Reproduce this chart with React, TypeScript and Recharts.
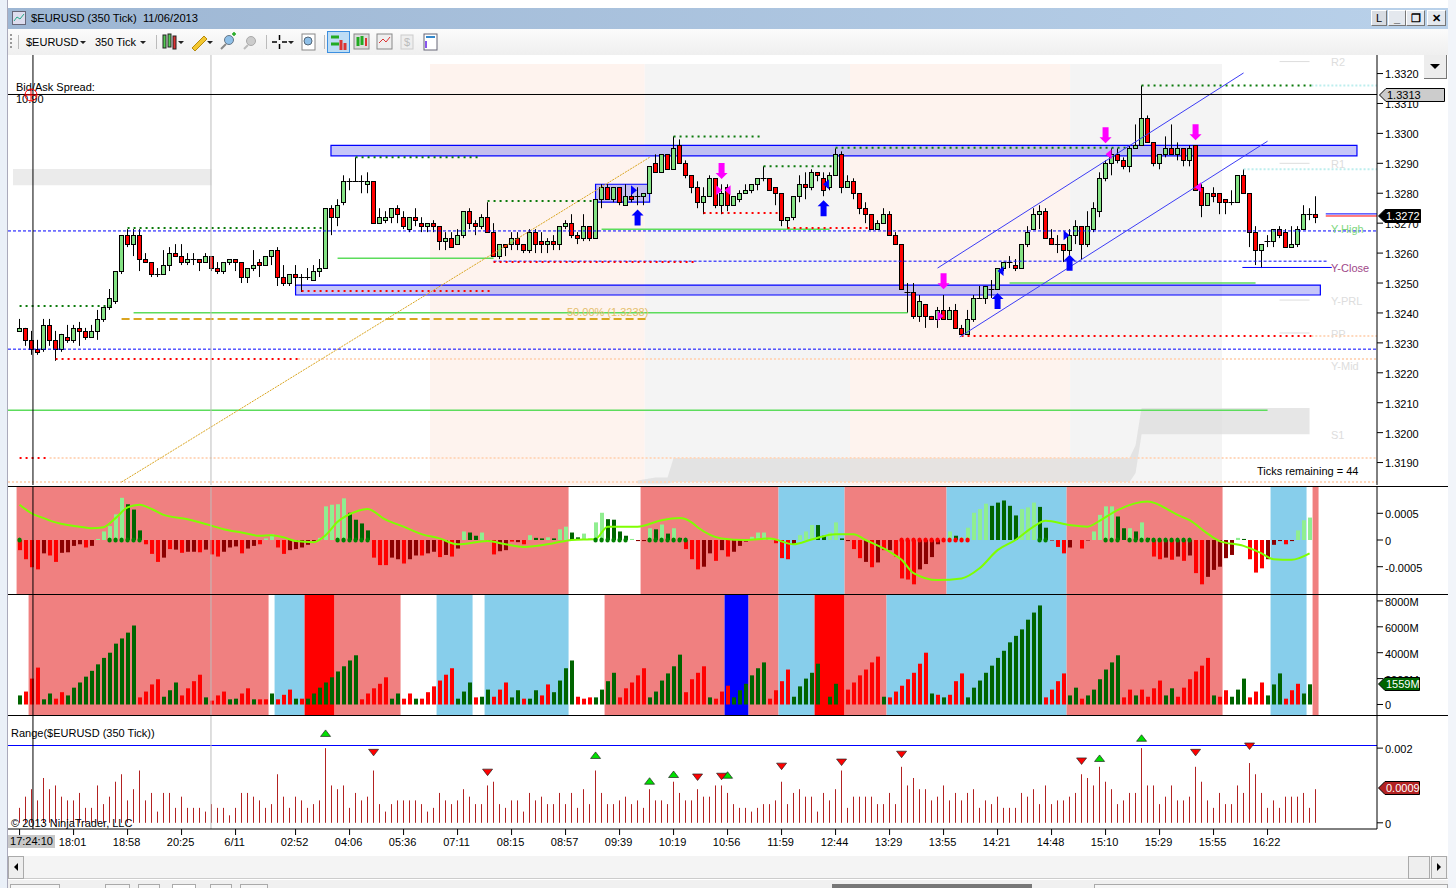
import { Bar, ComposedChart, Area, Line, ReferenceArea, ReferenceDot, ReferenceLine, XAxis, YAxis } from 'recharts';

const FONT = '"Liberation Sans", Arial, sans-serif';
const X_DOMAIN: [number, number] = [-1.93, 226.24];

// prices are in pips, 13320 = 1.3320
const opens = [
  13234,13235,13231,13228,13228,13236,13231,13228,13232,13231,
  13235,13234,13232,13234,13238,13242,13244,13254,13266,13263,
  13266,13258,13257,13253,13253,13256,13260,13259,13257,13258,
  13258,13257,13259,13255,13254,13257,13258,13257,13252,13255,
  13257,13256,13259,13261,13252,13250,13253,13252,13252,13251,
  13254,13255,13275,13272,13277,13284,13284,13284,13283,13284,
  13270,13271,13272,13275,13272,13268,13272,13270,13269,13270,
  13269,13264,13265,13263,13266,13274,13270,13269,13272,13267,
  13259,13263,13263,13265,13263,13261,13267,13264,13263,13264,
  13263,13269,13270,13266,13265,13269,13265,13278,13282,13278,
  13282,13276,13279,13279,13279,13280,13290,13287,13293,13288,
  13296,13290,13286,13282,13277,13279,13285,13276,13282,13276,
  13278,13280,13281,13283,13285,13285,13282,13280,13271,13272,
  13279,13283,13282,13287,13285,13282,13286,13293,13282,13284,
  13280,13275,13273,13268,13270,13273,13266,13263,13247,13247,
  13239,13243,13239,13238,13241,13238,13241,13235,13233,13238,
  13245,13245,13248,13248,13255,13257,13256,13255,13263,13268,
  13273,13274,13265,13263,13263,13261,13266,13269,13263,13268,
  13274,13285,13290,13293,13291,13289,13295,13296,13305,13297,
  13290,13293,13295,13293,13295,13291,13296,13282,13276,13280,
  13280,13278,13277,13277,13286,13280,13267,13261,13264,13264,
  13268,13267,13262,13263,13268,13273,13273,
];
const closes = [
  13235,13231,13228,13227,13236,13231,13228,13233,13231,13235,
  13234,13232,13234,13238,13242,13245,13254,13266,13263,13266,
  13258,13257,13253,13253,13256,13260,13259,13257,13258,13258,
  13257,13259,13255,13254,13257,13258,13257,13252,13255,13256,
  13256,13259,13261,13252,13250,13253,13252,13252,13252,13254,
  13255,13275,13272,13276,13284,13284,13284,13284,13284,13270,
  13272,13272,13275,13273,13269,13272,13271,13269,13270,13269,
  13264,13265,13262,13266,13274,13270,13269,13272,13267,13259,
  13263,13262,13265,13263,13261,13267,13263,13263,13264,13263,
  13269,13270,13266,13265,13269,13265,13278,13282,13278,13282,
  13277,13279,13278,13279,13280,13289,13287,13293,13288,13295,
  13290,13286,13282,13277,13279,13285,13276,13280,13276,13279,
  13280,13281,13283,13285,13285,13281,13280,13271,13272,13279,
  13283,13282,13287,13286,13281,13286,13293,13282,13284,13280,
  13275,13273,13268,13270,13273,13266,13263,13248,13247,13239,
  13244,13239,13238,13241,13238,13241,13235,13233,13238,13245,
  13245,13249,13248,13255,13257,13257,13255,13263,13267,13273,
  13274,13265,13263,13263,13261,13266,13269,13263,13269,13275,
  13285,13290,13293,13291,13289,13295,13296,13305,13297,13290,
  13293,13295,13293,13295,13291,13295,13281,13276,13280,13279,
  13277,13277,13277,13286,13280,13267,13261,13263,13264,13268,
  13266,13262,13263,13268,13273,13273,13272,
];
const highs = [
  13238,13235,13234,13231,13238,13238,13234,13233,13236,13236,
  13237,13235,13236,13241,13242,13248,13254,13266,13268,13268,
  13268,13260,13257,13255,13261,13262,13263,13263,13260,13260,
  13258,13260,13259,13257,13257,13258,13258,13257,13255,13261,
  13258,13259,13261,13262,13256,13253,13256,13253,13255,13256,
  13258,13275,13276,13278,13286,13285,13292,13286,13287,13284,
  13275,13274,13275,13276,13274,13272,13275,13272,13270,13271,
  13269,13267,13267,13268,13274,13275,13271,13273,13277,13270,
  13263,13263,13267,13267,13263,13268,13268,13267,13265,13266,
  13269,13271,13273,13267,13273,13269,13278,13283,13283,13282,
  13282,13283,13282,13282,13280,13289,13293,13293,13293,13299,
  13298,13291,13286,13284,13282,13286,13285,13283,13283,13279,
  13281,13283,13283,13285,13289,13285,13282,13280,13272,13279,
  13286,13287,13288,13287,13287,13287,13295,13294,13286,13285,
  13280,13277,13273,13271,13275,13274,13267,13263,13250,13250,
  13246,13243,13239,13242,13246,13242,13243,13236,13241,13246,
  13249,13249,13251,13255,13257,13259,13258,13263,13269,13275,
  13276,13275,13268,13266,13263,13268,13271,13269,13274,13277,
  13287,13291,13295,13295,13292,13296,13303,13316,13306,13297,
  13293,13299,13303,13297,13295,13296,13296,13283,13280,13282,
  13280,13278,13281,13286,13288,13280,13269,13263,13266,13268,
  13269,13268,13269,13269,13276,13275,13279,
];
const lows = [
  13234,13229,13226,13226,13227,13229,13224,13227,13230,13230,
  13229,13231,13232,13231,13237,13241,13243,13253,13262,13259,
  13254,13257,13252,13252,13253,13254,13259,13256,13256,13256,
  13254,13257,13254,13253,13253,13256,13254,13250,13250,13254,
  13252,13256,13256,13249,13249,13249,13249,13247,13251,13251,
  13252,13255,13266,13269,13276,13281,13284,13280,13280,13270,
  13270,13270,13270,13270,13268,13267,13269,13267,13267,13267,
  13261,13261,13262,13263,13265,13268,13266,13268,13267,13259,
  13258,13259,13261,13261,13260,13260,13260,13260,13260,13261,
  13261,13268,13265,13263,13264,13264,13265,13275,13278,13277,
  13276,13276,13277,13276,13276,13280,13287,13287,13288,13288,
  13290,13285,13280,13275,13273,13279,13275,13273,13274,13276,
  13277,13280,13280,13281,13284,13281,13276,13269,13268,13271,
  13277,13278,13281,13284,13279,13281,13286,13280,13282,13278,
  13273,13270,13268,13268,13270,13266,13263,13248,13240,13238,
  13237,13235,13238,13235,13238,13238,13235,13233,13233,13237,
  13245,13243,13245,13248,13254,13255,13254,13255,13262,13268,
  13268,13265,13263,13260,13257,13258,13263,13258,13262,13267,
  13272,13284,13286,13290,13288,13287,13295,13296,13297,13289,
  13288,13292,13293,13291,13289,13289,13281,13272,13276,13277,
  13273,13273,13276,13277,13280,13262,13256,13255,13262,13262,
  13265,13262,13262,13262,13268,13271,13270,
];

// bar range in pips
const ranges = [
  4,7,9,6,12,9,10,7,6,6, 8,4,4,10,5,7,11,13,6,9, 14,6,8,3,8,8,4,7,4,4, 4,3,5,4,4,2,4,8,8,7,
  6,4,5,13,7,4,7,6,4,5, 6,20,10,9,10,4,8,6,7,14, 5,3,5,6,6,6,6,5,3,4, 8,6,5,6,9,7,5,5,10,11,
  5,4,6,6,3,8,6,7,5,5, 8,5,8,4,9,5,14,8,5,5, 6,7,5,6,4,9,6,6,5,11, 8,6,6,9,7,7,10,10,8,5,
  4,4,3,4,5,5,6,11,5,8, 9,7,7,3,8,6,9,14,4,7, 7,7,7,5,5,8,5,15,10,12, 9,9,6,7,10,6,8,6,8,9,
  4,6,5,7,4,4,4,8,7,9, 5,10,5,6,6,7,8,13,12,10, 15,11,9,5,6,8,8,20,10,10, 5,7,10,6,6,7,15,11,6,4,
  8,5,5,10,8,16,13,8,4,6, 4,7,7,7,8,4,9,
];

// histogram in units of 0.00001, R red, D dark red, L light green, G dark green
const histogram = [
  -19,-36,-51,-55,-25,-29,-41,-24,-23,-11, -8,-14,-11,2,16,26,48,79,67,57,
  18,-8,-26,-41,-33,-17,-18,-24,-22,-22, -23,-18,-27,-31,-22,-14,-12,-25,-16,-11,
  -8,3,11,-14,-26,-19,-17,-14,-9,-2, 4,63,66,67,78,51,38,31,18,-33,
  -47,-47,-33,-36,-44,-36,-29,-29,-25,-22, -32,-28,-31,-16,16,14,8,14,-1,-27,
  -21,-19,-3,-4,-8,9,4,3,5,3, 20,25,14,5,12,3,33,51,39,38,
  16,8,2,-2,-2,22,20,29,12,22, 4,-17,-36,-55,-50,-25,-39,-19,-31,-22,
  -11,-3,6,14,14,4,-6,-34,-36,-8, 9,16,28,28,8,14,33,3,-2,-17,
  -34,-41,-51,-42,-19,-19,-31,-72,-74,-83, -55,-45,-32,-8,0,16,8,5,23,51,
  58,68,64,70,74,64,46,58,61,70, 62,23,-1,-13,-25,-14,0,-16,-1,16,
  47,63,63,44,22,22,16,33,4,-31, -36,-33,-37,-31,-39,-29,-62,-83,-69,-56,
  -50,-34,-28,4,2,-36,-61,-53,-36,-9, -2,-8,-2,18,37,42,
];
const histogramKinds =
  'RRRRDRRDDD' + 'DRDLLLLLGG' + 'GRRRDRDRDD' + 'RDRRDDDRDD' + 'RLLRRDDDDD' + 'LLLLLGGGGR' +
  'RRDDRDDRDD' + 'RDRDLGGLDR' + 'DDRDRLGGLG' + 'LLGGLLLLGG' + 'GGLDDLGLGL' + 'GRRRDDRDRD' +
  'DDLLLLRRRD' + 'LLLGGLLGDR' + 'RDRDRDRRRR' + 'DDDDDLGLLL' + 'LLGGGGGLLL' + 'GGDRRDDRDL' +
  'LLLGGLGLGR' + 'RDRDRDRRDD' + 'DDDLGRRRDD' + 'DRDLLL';

// signal line, read at these bars
const signalBars = [
  0,2,4,6,8,10,12,14,16,18,20,22,24,28,32,34,37,40,42,44,46,49,51,53,56,58,61,64,67,70,73,78,81,84,89,92,96,98,
  103,107,110,112,113,117,121,125,129,132,136,139,141,145,147,149,153,157,160,163,166,169,171,175,178,180,183,
  188,193,195,198,200,204,207,209,212,215,
];
const signalValues = [
  66,50,41,33,28,25,22,24,41,61,66,58,47,39,27,20,14,8,9,5,-2,-4,9,34,53,58,38,25,11,3,-8,-2,-8,-13,-6,0,2,25,
  25,37,41,33,24,3,0,3,-8,1,11,11,0,-22,-37,-62,-75,-72,-53,-19,0,25,36,28,25,36,56,
  72,47,37,12,-2,-11,-25,-36,-37,-25,
];
const greenDotBars = [0,15,16,17,18,19,20,53,54,55,56,57,58,96,97,98,99,100,101,105,106,107,108,109,110,111,170,171,181,182,183,185,186,187,188,189,190,191,192,193,194,195];
const redDotBars = [147,148,149,150,151,152,153,154,155,156,157,158];

// volume in millions, G up, R down
const volumes = [
  700,1000,2000,2850,400,850,450,950,700,1300, 1700,2150,2600,3100,3600,4000,4700,5100,5550,6100,
  550,1000,1550,1950,600,1100,1700,700,1250,1800, 2300,550,300,700,1000,400,450,850,1250,400,
  400,400,850,400,750,1150,450,450,450,850, 1300,1700,2100,2550,2950,3400,3800,400,850,1250,
  1600,2100,450,850,450,850,450,450,950,1400, 1850,2300,2800,450,1000,1700,550,600,1150,600,
  1150,1700,550,1100,450,450,1100,700,1550,950, 1850,2800,3400,600,450,550,550,1150,1800,2450,
  550,1250,1700,2250,2800,550,1000,1850,2400,2950, 3850,950,1950,2450,2950,550,450,1000,1450,550,
  1100,1600,2250,2800,3250,450,1100,1800,2700,600, 1400,2000,2450,3150,1300,600,1600,500,1150,1700,
  2250,2700,3250,3700,600,550,1000,1450,1950,2450, 3150,4000,850,750,550,750,1800,2400,550,1300,
  1850,2450,3000,3600,4150,4800,5300,5800,6550,7100, 7650,550,1150,1800,2400,700,1300,450,700,1150,
  1950,2700,3250,3800,550,1150,700,1150,600,1250, 1850,700,1250,600,1300,1950,2550,3000,3600,700,
  600,1100,600,1150,2000,550,1000,1700,700,1550, 2400,450,1100,1600,850,1559,
];
const volumeSides =
  'GRRRGGRRGG' + 'GGGGGGGGGG' + 'RRRRGGGRRR' + 'RGRRRGGRRG' + 'RRGRRRGRGG' + 'GGGGGGGRRR' +
  'RRGGRRGRRR' + 'RRRGGGRGGR' + 'RRGGRGGRRG' + 'GGGRRRGGGG' + 'RRRRRGGGGG' + 'GRRRRGRRRG' +
  'GGGGGRRRRG' + 'GGGGRGGRRR' + 'RRRRGRRRRR' + 'RRGRGRRRGG' + 'GGGGGGGGGG' + 'GRRRRGGRGG' +
  'GGGGRRGRRR' + 'RGGRRRRRRG' + 'RRGGGRRRGG' + 'GRRRGG';

// background state per panel: first bar edge, last bar edge, state
const histogramBands: [number, number, string][] = [
  [-0.5,91.5,'pink'],[103.5,126.5,'pink'],[126.5,137.5,'sky'],[137.5,154.5,'pink'],[154.5,174.5,'sky'],
  [174.5,200.5,'pink'],[208.5,214.5,'sky'],[215.5,216.5,'pink'],
];
const volumeBands: [number, number, string][] = [
  [1.5,41.5,'pink'],[42.5,47.5,'sky'],[47.5,52.5,'red'],[52.5,63.5,'pink'],[69.5,75.5,'sky'],[77.5,91.5,'sky'],
  [97.5,117.5,'pink'],[117.5,121.5,'blue'],[121.5,126.5,'pink'],[126.5,132.5,'sky'],[132.5,137.5,'red'],
  [137.5,144.5,'pink'],[144.5,174.5,'sky'],[174.5,200.5,'pink'],[208.5,214.5,'sky'],[215.5,216.5,'pink'],
];
const sessionBands: [number, number, string][] = [
  [68.4,104.2,'session'],[104.2,138.4,'sessionGrey'],[138.4,175.1,'session'],[175.1,200.4,'sessionGrey'],
];
const bandFills: Record<string, string> = {
  pink: '#F08080', sky: '#87CEEB', red: '#FF0000', blue: '#0000FF', session: '#FEF3EE', sessionGrey: '#F4F4F4',
};

// [first bar, last bar, price]
const greenDotted = [[18,50.4,13268.4],[0,15.4,13242.3],[56,77,13292],[78,96,13277.4],[109,123.5,13299],[124,136,13289],[136,185,13295.2],[187,215.3,13316]];
const redDotted = [[6,46.4,13224.6],[0,5,13191.5],[47,79,13247.3],[79,113,13257],[114,126.5,13273.4],[128,142,13268.4],[157,215.3,13232.3]];
const blueDotted = [[-1.93,226.24,13267.4],[79,218,13257.3],[-1.93,226.24,13227.9]];
const paleOrangeDotted = [[46.4,226.24,13224.6],[5,226.24,13191.5],[-1.93,226.24,13183.5],[215.3,226.24,13232.3]];
const paleCyanDotted = [[215.3,226.24,13316],[204,226.24,13288]];
const greenSolid = [[53,79,13258.3],[97,135,13268],[19,148,13240.1],[-1.93,208,13207.5],[165,206,13250]];
const pivotStubs = [[210,215,13324],[210,215,13290],[210,215,13244.3],[210,215,13233.3]];
const blueSolid = [[203.8,218.7,13255.2],[217.7,226.24,13273.1]];
const redSolid = [[217.7,226.24,13272.4]];
const fibLevel = [17,104.6,13238];
const fibTrend = [[17,13183.5],[105,13292]];
const channelLines = [[[153,13255],[204,13320.2]],[[156.7,13232],[208,13297.4]]];
const zones = [[51.9,222.9,13292.5,13296],[46,216.8,13246,13249.3],[96,105,13277,13283]];
const greyBlock = [-1.1,32,13282.7,13288.1];
// bars, low edge, high edge of the grey profile
const profileBars = [103,106,108,109,185,186,187,215];
const profileLows = [13183,13183,13183,13183.5,13183.5,13186.5,13199.5,13199.5];
const profileHighs = [13184,13185,13185,13191.5,13191.5,13195.8,13208.2,13208.2];

const blueUpArrows = [[103,13271.9],[134,13275],[163,13244],[175,13256.8]];
const magentaDownArrows = [[117,13287.4],[154,13250.6],[181,13299.4],[196,13300.4]];
const magentaRight = [[116.6,13281],[153.5,13239]];
const magentaLeft = [[118,13281],[181.5,13293],[196.4,13282]];
const blueRight = [[102.4,13281],[174.5,13266]];
const blueLeft = [[134.4,13283],[163.5,13254]];

const rangeUpMarks = [[51,23.8],[96,17.9],[105,11],[109,12.8],[118,12.6],[180,17.1],[187,22.5]];
const rangeDownMarks = [[59,19],[78,13.7],[113,12.4],[117,12.6],[127,15.3],[137,16.4],[147,18.5],[177,16.7],[196,19],[205,20.7]];

const priceTicks = [13190,13200,13210,13220,13230,13240,13250,13260,13270,13280,13290,13300,13310,13320];
const histogramTicks = [-50, 0, 50];
const volumeTicks = [0, 2000, 4000, 6000, 8000];
const rangeTicks = [0, 20];
const xTickBars = [0,9,18,27,36,46,55,64,73,82,91,100,109,118,127,136,145,154,163,172,181,190,199,208];
const xTickLabels = ['','18:01','18:58','20:25','6/11','02:52','04:06','05:36','07:11','08:15','08:57','09:39','10:19','10:56','11:59','12:44','13:29','13:55','14:21','14:48','15:10','15:29','15:55','16:22'];

const CROSS_X = 2.23;
const SPLIT_X = 31.9;

const table = opens.map((open, i) => {
  const sig = signalBars.indexOf(i);
  const prof = profileBars.indexOf(i);
  return {
    i,
    open,
    close: closes[i],
    high: highs[i],
    low: lows[i],
    range: ranges[i],
    hist: i < histogram.length ? histogram[i] : null,
    histKind: histogramKinds[i],
    volume: i < volumes.length ? volumes[i] : null,
    side: volumeSides[i],
    signal: sig >= 0 ? signalValues[sig] : null,
    profile: prof >= 0 ? [profileLows[prof], profileHighs[prof]] : null,
  };
});

const histColors: Record<string, string> = { R: '#FF0000', D: '#8B0000', L: '#90EE90', G: '#006400' };
const volumeColors: Record<string, string> = { R: '#FF0000', G: '#006400' };

function Candle(props: any) {
  const { x, y, width, height, payload } = props;
  const { open, close, high, low } = payload;
  const k = height / (high - low);
  const cx = Math.floor(x + width / 2) + 0.5;
  const top = Math.round(y + (high - Math.max(open, close)) * k) + 0.5;
  const bottom = Math.round(y + (high - Math.min(open, close)) * k) + 0.5;
  return (
    <g>
      <line x1={cx} x2={cx} y1={y} y2={y + height} stroke="#000" strokeWidth={1} />
      {open === close ? (
        <line x1={cx - 3} x2={cx + 3} y1={top} y2={top} stroke="#000" strokeWidth={1} />
      ) : (
        <rect x={cx - 2} y={top} width={4} height={bottom - top} fill={close > open ? '#84E284' : '#FF0000'} stroke="#000" strokeWidth={1} />
      )}
    </g>
  );
}

function crispBar(color: (p: any) => string, w: number) {
  return (props: any) => {
    const { x, y, width, height, payload } = props;
    const h = Math.abs(height);
    const cx = x + width / 2;
    return <rect x={Math.round(cx - w / 2)} y={Math.min(y, y + height)} width={w} height={h} fill={color(payload)} />;
  };
}

const upArrow = (fill: string) => (p: any) => (
  <path d={`M${p.cx},${p.cy - 8} l6,6 h-3 v10 h-6 v-10 h-3 z`} fill={fill} />
);
const downArrow = (fill: string) => (p: any) => (
  <path d={`M${p.cx},${p.cy + 8} l6,-6 h-3 v-10 h-6 v10 h-3 z`} fill={fill} />
);
const rightTri = (fill: string) => (p: any) => <path d={`M${p.cx - 3},${p.cy - 5} l6,5 l-6,5 z`} fill={fill} />;
const leftTri = (fill: string) => (p: any) => <path d={`M${p.cx + 3},${p.cy - 5} l-6,5 l6,5 z`} fill={fill} />;
const rangeUp = (p: any) => <path d={`M${p.cx},${p.cy - 4} l5,6.5 h-10 z`} fill="#00E000" stroke="#222" strokeWidth={0.7} />;
const rangeDown = (p: any) => <path d={`M${p.cx},${p.cy + 4} l5,-6.5 h-10 z`} fill="#FF0000" stroke="#222" strokeWidth={0.7} />;
const zeroDot = (fill: string) => (p: any) => <ellipse cx={p.cx} cy={p.cy} rx={2.2} ry={2.6} fill={fill} />;

const axisTick = { fontSize: 11, fill: '#000', fontFamily: FONT, dy: 1 };
const xAxisTick = { fontSize: 11, fill: '#000', fontFamily: FONT, dy: 1, dx: -1 };
const axisLine = { stroke: '#000' };

function seg(list: number[][], stroke: string, strokeWidth: number, dash: string | undefined, key: string) {
  return list.map(([a, b, p], n) => (
    <ReferenceLine
      key={key + n}
      segment={[{ x: a, y: p }, { x: b, y: p }]}
      stroke={stroke}
      strokeWidth={strokeWidth}
      strokeDasharray={dash}
      ifOverflow="visible"
    />
  ));
}

function bandAreas(list: [number, number, string][], key: string, y1?: number, y2?: number) {
  return list.map(([a, b, kind], n) => (
    <ReferenceArea key={key + n} x1={a} x2={b} y1={y1} y2={y2} fill={bandFills[kind]} fillOpacity={1} stroke="none" ifOverflow="visible" />
  ));
}

function marks(list: number[][], shape: any, key: string) {
  return list.map(([a, p], n) => <ReferenceDot key={key + n} x={a} y={p} r={1} shape={shape} ifOverflow="visible" />);
}

function vertical(x: number, stroke: string, key: string) {
  return <ReferenceLine key={key} x={x} stroke={stroke} strokeWidth={1} ifOverflow="visible" />;
}

function PricePanel() {
  return (
    <ComposedChart width={1456} height={430} data={table} margin={{ top: 0, right: 0, bottom: 0, left: 8 }}>
      <XAxis dataKey="i" type="number" domain={X_DOMAIN} allowDataOverflow hide />
      <YAxis
        orientation="right"
        width={79}
        domain={[13182.5, 13326.2]}
        allowDataOverflow
        ticks={priceTicks}
        interval={0}
        tick={axisTick}
        tickSize={6}
        axisLine={axisLine}
        tickLine={axisLine}
        tickFormatter={(v: number) => (v / 10000).toFixed(4)}
      />
      {bandAreas(sessionBands, 'session', 13182.5, 13323.2)}
      <ReferenceArea x1={greyBlock[0]} x2={greyBlock[1]} y1={greyBlock[2]} y2={greyBlock[3]} fill="#EBEBEB" fillOpacity={1} stroke="none" />
      <Area dataKey="profile" connectNulls fill="#DCDCDC" fillOpacity={0.7} stroke="none" isAnimationActive={false} />
      {seg(paleOrangeDotted, '#FFD8BC', 2, '2 2', 'po')}
      {seg(paleCyanDotted, '#BDEEEE', 2, '2 2', 'pc')}
      {seg(greenSolid, '#5CDC5C', 1.5, undefined, 'gs')}
      {seg(pivotStubs, '#DDDDDD', 1, undefined, 'ps')}
      {seg([fibLevel], '#DAA520', 2, '8 4', 'fib')}
      <ReferenceLine
        segment={[{ x: fibTrend[0][0], y: fibTrend[0][1] }, { x: fibTrend[1][0], y: fibTrend[1][1] }]}
        stroke="#DAA520"
        strokeWidth={1}
        strokeDasharray="2 1"
        ifOverflow="visible"
      />
      <Bar dataKey={(d: any) => [d.low, d.high]} barSize={5} shape={Candle} isAnimationActive={false} />
      {seg(blueDotted, '#0000FF', 1, '3 2', 'bd')}
      {seg(greenDotted, '#0B7A0B', 2, '2 4', 'gd')}
      {seg(redDotted, '#FF0000', 2, '2 4', 'rd')}
      {seg(blueSolid, '#0000FF', 1, undefined, 'bs')}
      {seg(redSolid, '#FF0000', 1, undefined, 'rs')}
      {zones.map(([a, b, p1, p2], n) => (
        <ReferenceArea key={'z' + n} x1={a} x2={b} y1={p1} y2={p2} fill="#6A6AF0" fillOpacity={0.38} stroke="#0000FF" strokeWidth={1.2} />
      ))}
      {channelLines.map((c, n) => (
        <ReferenceLine
          key={'ch' + n}
          segment={[{ x: c[0][0], y: c[0][1] }, { x: c[1][0], y: c[1][1] }]}
          stroke="#3C3CF5"
          strokeWidth={1}
          ifOverflow="visible"
        />
      ))}
      {vertical(SPLIT_X, '#BDBDBD', 'split')}
      {vertical(CROSS_X, '#000', 'cross')}
      <ReferenceLine y={13313} stroke="#000" strokeWidth={1} />
      {marks(blueUpArrows, upArrow('#0000FF'), 'bu')}
      {marks(magentaDownArrows, downArrow('#FF00FF'), 'md')}
      {marks(magentaRight, rightTri('#FF00FF'), 'mr')}
      {marks(magentaLeft, leftTri('#FF00FF'), 'ml')}
      {marks(blueRight, rightTri('#0000FF'), 'br')}
      {marks(blueLeft, leftTri('#0000FF'), 'bl')}
    </ComposedChart>
  );
}

function HistogramPanel() {
  return (
    <ComposedChart width={1456} height={107} data={table} margin={{ top: 0, right: 0, bottom: 0, left: 8 }}>
      <XAxis dataKey="i" type="number" domain={X_DOMAIN} allowDataOverflow hide />
      <YAxis
        orientation="right"
        width={79}
        domain={[-101.1, 99.25]}
        allowDataOverflow
        ticks={histogramTicks}
        interval={0}
        tick={axisTick}
        tickSize={6}
        axisLine={axisLine}
        tickLine={axisLine}
        tickFormatter={(v: number) => (v === 0 ? '0' : (v / 100000).toFixed(4))}
      />
      {bandAreas(histogramBands, 'hb')}
      <Bar dataKey="hist" barSize={4} shape={crispBar((p) => histColors[p.histKind], 4)} isAnimationActive={false} />
      {marks(greenDotBars.map((b) => [b, 0]), zeroDot('#008000'), 'gz')}
      {marks(redDotBars.map((b) => [b, 0]), zeroDot('#FF0000'), 'rz')}
      <Line dataKey="signal" type="monotone" connectNulls stroke="#7FFF00" strokeWidth={2} dot={false} isAnimationActive={false} />
      {vertical(SPLIT_X, '#BDBDBD', 'split')}
      {vertical(CROSS_X, '#000', 'cross')}
    </ComposedChart>
  );
}

function VolumePanel() {
  return (
    <ComposedChart width={1456} height={120} data={table} margin={{ top: 0, right: 0, bottom: 0, left: 8 }}>
      <XAxis dataKey="i" type="number" domain={X_DOMAIN} allowDataOverflow hide />
      <YAxis
        orientation="right"
        width={79}
        domain={[-811, 8456]}
        allowDataOverflow
        ticks={volumeTicks}
        interval={0}
        tick={axisTick}
        tickSize={6}
        axisLine={axisLine}
        tickLine={axisLine}
        tickFormatter={(v: number) => (v === 0 ? '0' : `${v}M`)}
      />
      {bandAreas(volumeBands, 'vb')}
      <Bar dataKey="volume" barSize={4} shape={crispBar((p) => volumeColors[p.side], 4)} isAnimationActive={false} />
      {vertical(SPLIT_X, '#BDBDBD', 'split')}
      {vertical(CROSS_X, '#000', 'cross')}
    </ComposedChart>
  );
}

function RangePanel() {
  return (
    <ComposedChart width={1456} height={139} data={table} margin={{ top: 0, right: 0, bottom: 0, left: 8 }}>
      <XAxis
        dataKey="i"
        type="number"
        domain={X_DOMAIN}
        allowDataOverflow
        ticks={xTickBars}
        interval={0}
        height={26}
        tickSize={6}
        tick={xAxisTick}
        axisLine={axisLine}
        tickLine={axisLine}
        tickFormatter={(v: number) => xTickLabels[xTickBars.indexOf(v)]}
      />
      <YAxis
        orientation="right"
        width={79}
        domain={[-1.66, 28.6]}
        allowDataOverflow
        ticks={rangeTicks}
        interval={0}
        tick={axisTick}
        tickSize={6}
        axisLine={axisLine}
        tickLine={axisLine}
        tickFormatter={(v: number) => (v === 0 ? '0' : '0.002')}
      />
      <Bar dataKey="range" barSize={1} shape={crispBar(() => '#B22222', 1)} isAnimationActive={false} />
      <ReferenceLine y={20.7} stroke="#0000FF" strokeWidth={1} />
      {marks(rangeUpMarks, rangeUp, 'ru')}
      {marks(rangeDownMarks, rangeDown, 'rd')}
      {vertical(SPLIT_X, '#BDBDBD', 'split')}
      {vertical(CROSS_X, '#000', 'cross')}
    </ComposedChart>
  );
}

function Text({ x, y, children, color = '#000', size = 11 }: any) {
  return (
    <span style={{ position: 'absolute', left: x, top: y - size * 0.52, fontSize: size, lineHeight: `${size * 1.2}px`, color, whiteSpace: 'nowrap' }}>
      {children}
    </span>
  );
}

function Badge({ x, y, w, h, fill, color, children, stroke = '#000' }: any) {
  return (
    <svg style={{ position: 'absolute', left: x, top: y, overflow: 'visible' }} width={w} height={h}>
      <path d={`M0.5,${h / 2} L7,0.5 H${w - 0.5} V${h - 0.5} H7 Z`} fill={fill} stroke={stroke} />
      <text x={8} y={h / 2 + 4} fontSize={11} fill={color} fontFamily={FONT}>{children}</text>
    </svg>
  );
}

function Toolbar() {
  return (
    <svg style={{ position: 'absolute', left: 0, top: 29 }} width={480} height={26}>
      <g fill="#999">
        {[5, 9, 13, 17].map((y) => <rect key={y} x={10} y={y} width={2} height={2} />)}
      </g>
      <path d="M18.5,6 V20 M156.5,6 V20 M266.5,6 V20 M324.5,6 V20" stroke="#bbb" />
      <path d="M80,12 h6 l-3,3 z M140,12 h6 l-3,3 z M178,12 h6 l-3,3 z M207,12 h6 l-3,3 z M288,12 h6 l-3,3 z" fill="#222" />
      <g stroke="#222">
        <rect x={163} y={6} width={3} height={13} fill="#5c5" />
        <rect x={168} y={5} width={3} height={13} fill="#5c5" />
        <rect x={173} y={7} width={3} height={13} fill="#d33" />
      </g>
      <path d="M192,19 L204,7 L207,10 L195,22 Z" fill="#F3C730" stroke="#B58A10" />
      <circle cx={229} cy={11} r={4.5} fill="#8FC0E8" stroke="#678" />
      <path d="M226,15 L221,20" stroke="#888" strokeWidth={2} />
      <path d="M232,5 h4 M234,3 v4" stroke="#2A2" strokeWidth={1.5} />
      <circle cx={251} cy={12} r={4.5} fill="#ccc" stroke="#aaa" />
      <path d="M248,16 L244,20" stroke="#bbb" strokeWidth={2} />
      <path d="M272,13 h5 M282,13 h5 M279.5,6 v5 M279.5,15 v5" stroke="#000" strokeWidth={1.5} />
      <rect x={302} y={5} width={13} height={16} fill="#fff" stroke="#888" />
      <circle cx={308} cy={12} r={4} fill="#8FC0E8" stroke="#567" />
      <rect x={327.5} y={2.5} width={22} height={21} fill="#BDDDF5" stroke="#3C8FE0" />
      <path d="M331,8 h8 M331,15 h8" stroke="#2A2" strokeWidth={3} />
      <path d="M341,11 v10 M345,14 v7" stroke="#d33" strokeWidth={3} />
      <rect x={354} y={5} width={15} height={15} fill="#ddd" stroke="#888" />
      <path d="M358,8 v9 M362,7 v9" stroke="#2A2" strokeWidth={3} />
      <path d="M366,9 v8" stroke="#d33" strokeWidth={2} />
      <rect x={377} y={5} width={15} height={15} fill="#eee" stroke="#888" />
      <path d="M379,14 l4,-4 l3,3 l4,-5" stroke="#d33" fill="none" />
      <rect x={401} y={6} width={12} height={14} fill="#eee" stroke="#ccc" />
      <text x={404} y={17} fontSize={11} fill="#bbb" fontFamily={FONT}>$</text>
      <rect x={424} y={5} width={13} height={16} fill="#fff" stroke="#667" />
      <path d="M426,8 h9" stroke="#38C" strokeWidth={2} />
      <path d="M426,12 v7" stroke="#85E" strokeWidth={2} />
    </svg>
  );
}

function WindowButton({ x, w, children, active }: any) {
  return (
    <div
      style={{
        position: 'absolute', left: x, top: 10, width: w, height: 16, boxSizing: 'border-box',
        background: active ? '#D8DCE2' : '#E4E8EE', border: '1px solid #fff', borderRightColor: '#777', borderBottomColor: '#777',
        fontSize: 11, textAlign: 'center', lineHeight: '14px', fontWeight: active ? 400 : 700, color: '#000',
      }}
    >
      {children}
    </div>
  );
}

function Rule({ y }: { y: number }) {
  return <div style={{ position: 'absolute', left: 8, top: y, width: 1440, height: 1, background: '#000' }} />;
}

function Stub({ x, w, fill = '#F6F6F6' }: any) {
  return <div style={{ position: 'absolute', left: x, top: 884, width: w, height: 4, background: fill, border: '1px solid #AAA', borderBottom: 'none', boxSizing: 'border-box' }} />;
}

export default function App() {
  return (
    <div style={{ position: 'absolute', left: 0, top: 0, width: 1456, height: 888, overflow: 'hidden', background: '#fff', fontFamily: FONT }}>
      <div style={{ position: 'absolute', left: 0, top: 0, width: 7, height: 888, background: '#EAF0F8', borderRight: '1px solid #AAB' }} />
      <div style={{ position: 'absolute', left: 8, top: 8, width: 1440, height: 21, background: 'linear-gradient(90deg,#9DB6D3,#B9D1EA)' }} />
      <div style={{ position: 'absolute', left: 8, top: 29, width: 1440, height: 26, background: 'linear-gradient(#FBFBFB,#EFEFEF)' }} />
      <div style={{ position: 'absolute', left: 1448, top: 0, width: 8, height: 888, background: '#F2F5FA' }} />
      <svg style={{ position: 'absolute', left: 12, top: 11 }} width={14} height={14}>
        <rect x={0.5} y={0.5} width={13} height={13} fill="#DDE" stroke="#667" />
        <path d="M2,10 L5,6 L8,8 L12,3" stroke="#2A8" fill="none" />
      </svg>
      <Text x={31} y={18} size={11.2}>$EURUSD (350 Tick)&nbsp; 11/06/2013</Text>
      <WindowButton x={1371} w={16} active>L</WindowButton>
      <WindowButton x={1388} w={18}>_</WindowButton>
      <WindowButton x={1406} w={19}>❐</WindowButton>
      <WindowButton x={1427} w={19}>✕</WindowButton>
      <Toolbar />
      <Text x={26} y={41.5} size={11}>$EURUSD</Text>
      <Text x={95} y={41.5} size={11}>350 Tick</Text>

      <div style={{ position: 'absolute', left: 0, top: 55 }}><PricePanel /></div>
      <div style={{ position: 'absolute', left: 0, top: 487 }}><HistogramPanel /></div>
      <div style={{ position: 'absolute', left: 0, top: 595 }}><VolumePanel /></div>
      <div style={{ position: 'absolute', left: 0, top: 716 }}><RangePanel /></div>
      <Rule y={486} />
      <Rule y={594} />
      <Rule y={715} />

      <div style={{ position: 'absolute', left: 1424, top: 55, width: 23, height: 24, boxSizing: 'border-box', background: '#EDEDED', borderRight: '1px solid #777', borderBottom: '1px solid #777' }}>
        <svg width={22} height={22}><path d="M6,9 h10 l-5,5 z" fill="#000" /></svg>
      </div>

      <Text x={16} y={87}>Bid/Ask Spread:</Text>
      <Text x={16} y={99}>10.90</Text>
      <svg style={{ position: 'absolute', left: 23, top: 87 }} width={16} height={16}>
        <circle cx={8} cy={8} r={6} fill="none" stroke="#F00" />
        <path d="M8,2 V14 M2,8 H14" stroke="#F00" />
      </svg>
      <Text x={567} y={312} color="#E4BE6C">50.00% (1.3238)</Text>
      <Text x={1331} y={62} color="#DDD">R2</Text>
      <Text x={1331} y={164} color="#DDD">R1</Text>
      <Text x={1331} y={229} color="#7FD87F">Y-High</Text>
      <Text x={1331} y={268} color="#A04888">Y-Close</Text>
      <Text x={1331} y={301} color="#DDD">Y-PRL</Text>
      <Text x={1331} y={334} color="#DDD">PP</Text>
      <Text x={1331} y={366} color="#DDD">Y-Mid</Text>
      <Text x={1331} y={435} color="#DDD">S1</Text>
      <Text x={1257} y={471}>Ticks remaining = 44</Text>
      <Text x={11} y={733}>Range($EURUSD (350 Tick))</Text>
      <Text x={11} y={823}>© 2013 NinjaTrader, LLC</Text>

      <Badge x={1379} y={88} w={66} h={14} fill="#CCCCCC" color="#000">1.3313</Badge>
      <Badge x={1378} y={209} w={43} h={14} fill="#000" color="#fff">1.3272</Badge>
      <Badge x={1378} y={677} w={42} h={14} fill="#006400" color="#fff">1559M</Badge>
      <Badge x={1378} y={781} w={42} h={14} fill="#B22222" color="#fff">0.0009</Badge>

      <div style={{ position: 'absolute', left: 8, top: 835, width: 47, height: 13, background: '#C8C8C8', fontSize: 11, lineHeight: '13px', textAlign: 'center' }}>17:24:10</div>

      <div style={{ position: 'absolute', left: 8, top: 856, width: 1440, height: 22, background: '#F4F4F4', borderBottom: '1px solid #CCC' }} />
      <div style={{ position: 'absolute', left: 8, top: 856, width: 16, height: 23, background: '#EEE', border: '1px solid #AAA', boxSizing: 'border-box' }}>
        <svg width={14} height={20}><path d="M9,6 v8 l-4,-4 z" fill="#000" /></svg>
      </div>
      <div style={{ position: 'absolute', left: 1408, top: 856, width: 22, height: 23, background: '#EEE', border: '1px solid #AAA', boxSizing: 'border-box' }} />
      <div style={{ position: 'absolute', left: 1431, top: 856, width: 16, height: 23, background: '#EEE', border: '1px solid #AAA', boxSizing: 'border-box' }}>
        <svg width={14} height={20}><path d="M5,6 v8 l4,-4 z" fill="#000" /></svg>
      </div>
      <div style={{ position: 'absolute', left: 8, top: 880, width: 1440, height: 8, background: '#F0F0F0' }} />
      <Stub x={10} w={50} />
      <Stub x={105} w={25} />
      <Stub x={138} w={22} />
      <Stub x={172} w={24} fill="#fff" />
      <Stub x={210} w={22} />
      <Stub x={240} w={28} />
      <div style={{ position: 'absolute', left: 832, top: 884, width: 200, height: 4, background: '#777' }} />
      <Stub x={1094} w={354} />
    </div>
  );
}
